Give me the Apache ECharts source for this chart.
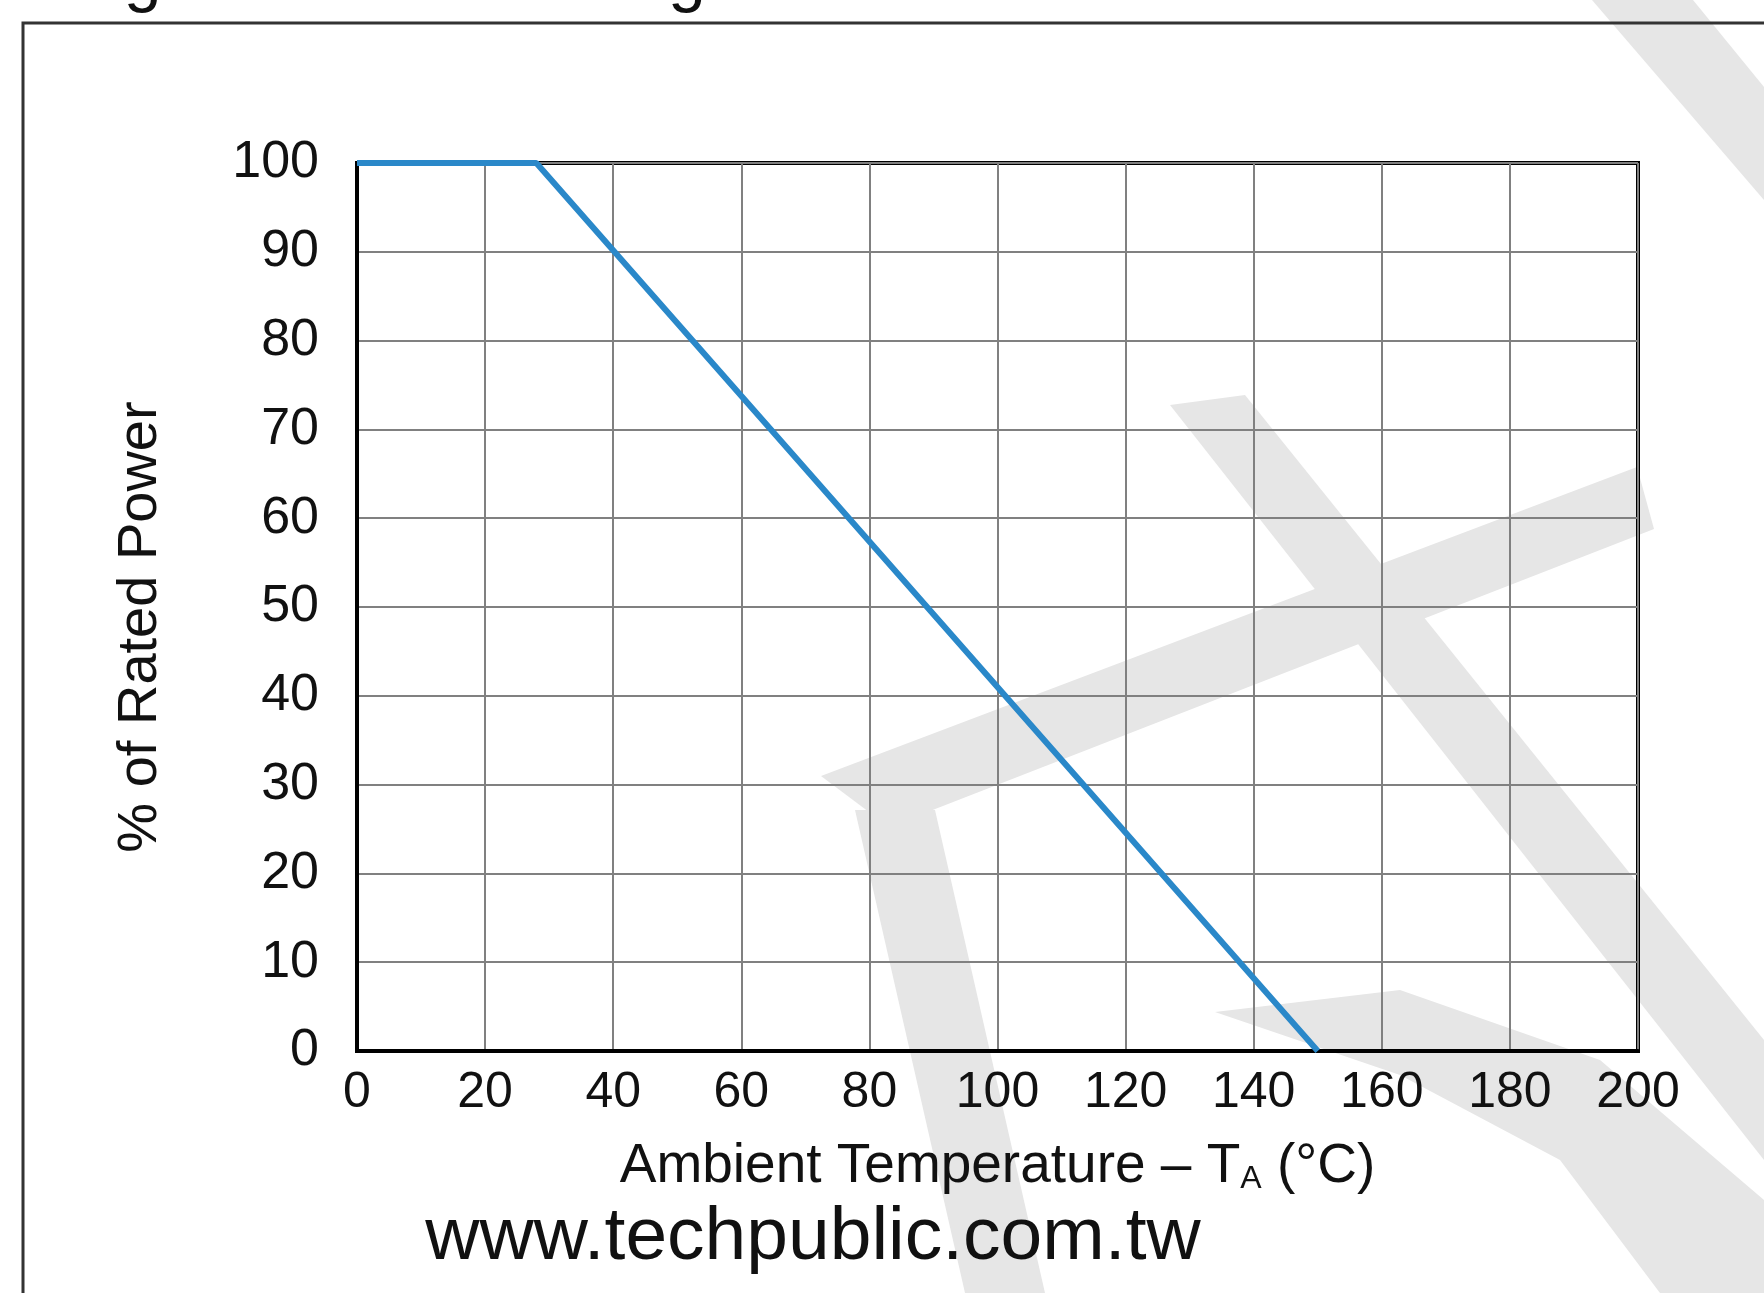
<!DOCTYPE html>
<html>
<head>
<meta charset="utf-8">
<script src="https://cdn.jsdelivr.net/npm/echarts@6/dist/echarts.min.js"></script>
<style>
  html, body { margin: 0; padding: 0; background: #fff; }
  #chart { width: 1764px; height: 1293px; }
</style>
</head>
<body>
<div id="chart"></div>
<script>
// derating curve: temperature (°C) vs % of rated power
const tempPoints = [0, 28, 150];
const powerPoints = [100, 100, 0];
const xTicks = [0, 20, 40, 60, 80, 100, 120, 140, 160, 180, 200];
const yTicks = [0, 10, 20, 30, 40, 50, 60, 70, 80, 90, 100];

const font = "'Liberation Sans', Arial, sans-serif";
const chart = echarts.init(document.getElementById("chart"));

const curve = tempPoints.map((t, i) => [t, powerPoints[i]]);

// light grey watermark bands behind the plot
const wm = "#e6e6e6";
const watermark = [
  [[1592, 0], [1693, 0], [1764, 87], [1764, 200]],
  [[821, 776], [889, 827], [1654, 529], [1637, 467]],
  [[1170, 405], [1245, 395], [1764, 1040], [1764, 1160]],
  [[855, 810], [935, 810], [1045, 1293], [965, 1293]],
  [[1215, 1012], [1400, 990], [1600, 1060], [1764, 1200], [1764, 1293], [1660, 1293], [1560, 1160], [1400, 1075]],
].map((pts) => ({
  type: "polygon",
  z: -10,
  silent: true,
  shape: { points: pts },
  style: { fill: wm },
}));

chart.setOption({
  animation: false,
  backgroundColor: "#fff",
  grid: {
    left: 357, right: 126, top: 163, bottom: 242,
    show: true, borderColor: "#000", borderWidth: 4,
  },
  xAxis: {
    type: "value",
    min: xTicks[0], max: xTicks[xTicks.length - 1], interval: 20,
    name: "{n|Ambient Temperature – T}{s|A}{n| (°C)}",
    nameLocation: "middle",
    nameGap: 88,
    nameTextStyle: {
      rich: {
        n: { fontFamily: font, fontSize: 55, color: "#111" },
        s: { fontFamily: font, fontSize: 32, color: "#111", padding: [24, 0, 0, 0] },
      },
    },
    axisLine: { show: true, lineStyle: { color: "#000", width: 4 } },
    axisTick: { show: false },
    axisLabel: { fontFamily: font, fontSize: 50, color: "#111", margin: 17 },
    splitLine: { show: true, lineStyle: { color: "#808080", width: 2 } },
  },
  yAxis: {
    type: "value",
    min: yTicks[0], max: yTicks[yTicks.length - 1], interval: 10,
    name: "% of Rated Power",
    nameLocation: "middle",
    nameGap: 188,
    nameTextStyle: { fontFamily: font, fontSize: 56, color: "#111", padding: [0, 40, 0, 0] },
    axisLine: { show: true, lineStyle: { color: "#000", width: 4 } },
    axisTick: { show: false },
    axisLabel: { fontFamily: font, fontSize: 52, color: "#111", margin: 38 },
    splitLine: { show: true, lineStyle: { color: "#808080", width: 2 } },
  },
  series: [
    {
      type: "line",
      data: curve,
      symbol: "none",
      clip: false,
      z: 5,
      lineStyle: { color: "#2a88c9", width: 6 },
    },
  ],
  graphic: [
    ...watermark,
    {
      type: "polyline",
      silent: true,
      shape: { points: [[23, 1293], [23, 23], [1764, 23]] },
      style: { stroke: "#333", lineWidth: 3, fill: null },
    },
    {
      type: "text",
      left: 67, top: -54,
      silent: true,
      z: -5,
      style: { text: "Fig.3 Power Derating Curve", font: "68px " + font, fill: "#111" },
    },
    {
      type: "text",
      silent: true,
      x: 813, y: 1238,
      style: {
        text: "www.techpublic.com.tw",
        font: "75px " + font, fill: "#111",
        align: "center", verticalAlign: "middle",
      },
    },
  ],
});
</script>
</body>
</html>
